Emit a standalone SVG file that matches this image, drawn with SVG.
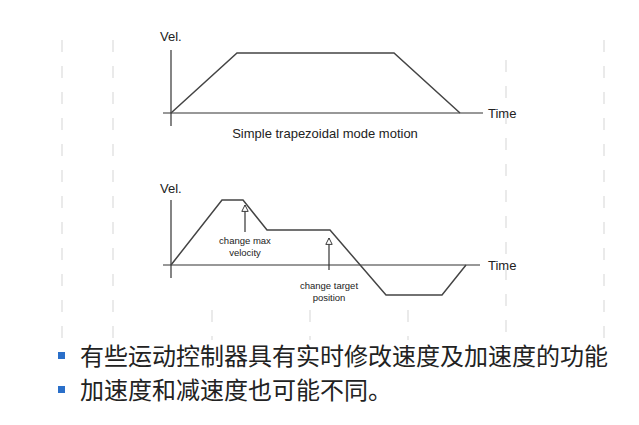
<svg xmlns="http://www.w3.org/2000/svg" width="639" height="425" viewBox="0 0 639 425">
<defs>
<style>
.ax{stroke:#333;stroke-width:1.2;fill:none}
.cv{stroke:#444;stroke-width:1.5;fill:none}
.t{font-family:"Liberation Sans",Arial,sans-serif;fill:#222}
.s{font-size:13px}.xs{font-size:9.5px}
.cn{font-family:"Liberation Sans","Noto Sans CJK SC",sans-serif;font-size:24px;fill:#222}
.bg{stroke:#e4e4e4;stroke-width:1.5;stroke-dasharray:12 14}
</style>
<marker id="oa" viewBox="0 0 10 10" refX="5" refY="1" markerWidth="8" markerHeight="10" orient="0" markerUnits="userSpaceOnUse">
<path d="M1,9 L5,1 L9,9 Z" fill="#fff" stroke="#333" stroke-width="1.2"/>
</marker>
</defs>
<rect width="639" height="425" fill="#fff"/>
<g id="bg">
<line class="bg" x1="62" y1="40" x2="62" y2="340"/>
<line class="bg" x1="113" y1="40" x2="113" y2="340"/>
<line class="bg" x1="212" y1="310" x2="212" y2="340"/>
<line class="bg" x1="310" y1="310" x2="310" y2="340"/>
<line class="bg" x1="408" y1="310" x2="408" y2="340"/>
<line class="bg" x1="506" y1="60" x2="506" y2="340"/>
<line class="bg" x1="604" y1="40" x2="604" y2="340"/>
</g>
<g id="chart1">
<line class="ax" x1="171" y1="50" x2="171" y2="126"/>
<line class="ax" x1="163" y1="113" x2="483" y2="113"/>
<polyline class="cv" points="171,113 237,53 394,53 460,113"/>
<text class="t s" x="160" y="41">Vel.</text>
<text class="t s" x="488" y="118">Time</text>
<text class="t s" x="325" y="138" text-anchor="middle">Simple trapezoidal mode motion</text>
</g>
<g id="chart2">
<line class="ax" x1="171" y1="200" x2="171" y2="278"/>
<line class="ax" x1="163" y1="265" x2="480" y2="265"/>
<polyline class="cv" points="171,265 222,200 243,200 267,230 330,230 386,295 442,295 466,265"/>
<text class="t s" x="160" y="193">Vel.</text>
<text class="t s" x="488" y="270">Time</text>
</g>
<g id="connectors">
<line class="ax" x1="245" y1="232" x2="245" y2="205" marker-end="url(#oa)"/>
<line class="ax" x1="329" y1="270" x2="329" y2="238" marker-end="url(#oa)"/>
</g>
<g id="lbl1"><text class="t xs" x="245" y="244" text-anchor="middle">change max</text><text class="t xs" x="245" y="256" text-anchor="middle">velocity</text></g>
<g id="lbl2"><text class="t xs" x="329" y="289" text-anchor="middle">change target</text><text class="t xs" x="329" y="301" text-anchor="middle">position</text></g>
<g id="bullets">
<rect x="58" y="352" width="7" height="7" fill="#2a6fc9"/>
<text class="cn" x="80" y="365">有些运动控制器具有实时修改速度及加速度的功能</text>
<rect x="58" y="386" width="7" height="7" fill="#2a6fc9"/>
<text class="cn" x="80" y="399">加速度和减速度也可能不同。</text>
</g>
</svg>
